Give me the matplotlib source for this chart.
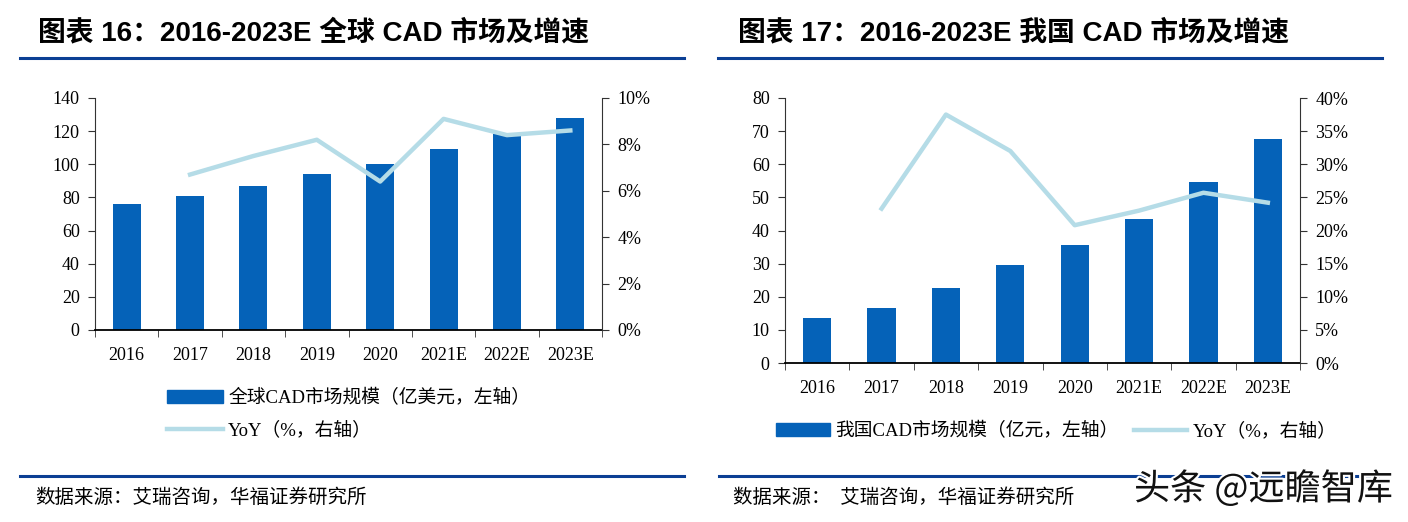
import matplotlib
matplotlib.use("Agg")
import matplotlib.pyplot as plt
import matplotlib.patheffects as pe
from matplotlib.ticker import FuncFormatter, FixedLocator
from matplotlib.lines import Line2D
from matplotlib.patches import Patch

SERIF = ["Liberation Serif", "Noto Sans CJK SC"]
TITLE_FONT = ["Liberation Sans", "Noto Sans CJK SC"]

years = ["2016", "2017", "2018", "2019", "2020", "2021E", "2022E", "2023E"]

global_size = [76, 81, 87, 94, 100, 109, 118, 128]
global_yoy = [None, 6.7, 7.5, 8.2, 6.4, 9.1, 8.4, 8.6]

china_size = [13.5, 16.5, 22.5, 29.5, 35.5, 43.5, 54.5, 67.5]
china_yoy = [None, 23.3, 37.5, 32.0, 20.8, 23.0, 25.7, 24.2]

BAR_COLOR = "#0562b8"
LINE_COLOR = "#b5dce7"
RULE_COLOR = "#0b3f94"

W, H = 1408, 522


def fx(px):
    return px / W


def fy(px):
    return 1 - px / H


def draw_panel(fig, rect, sizes, yoy, ymax, ystep, rmax, rstep):
    ax = fig.add_axes(rect)
    x = list(range(len(years)))
    ax.bar(x, sizes, width=0.44, color=BAR_COLOR, zorder=2)
    ax.set_xlim(-0.5, len(years) - 0.5)
    ax.set_ylim(0, ymax)
    ax.set_yticks(range(0, ymax + 1, ystep))
    ax.set_xticks(x)
    ax.set_xticklabels(years)
    ax.xaxis.set_minor_locator(FixedLocator([i - 0.5 for i in range(len(years) + 1)]))
    ax.tick_params(axis="x", which="major", length=0, pad=12)
    ax.tick_params(axis="x", which="minor", length=5, direction="out", color="#333333")
    ax.tick_params(axis="y", length=5, direction="out", color="#333333", pad=6)
    ax.spines["top"].set_visible(False)
    ax.spines["right"].set_visible(False)
    ax.spines["left"].set_color("#333333")
    ax.spines["bottom"].set_color("black")
    ax.spines["bottom"].set_linewidth(1.3)
    for lab in ax.get_xticklabels() + ax.get_yticklabels():
        lab.set_family(SERIF)
        lab.set_fontsize(13)

    ax2 = ax.twinx()
    xs = [i for i, v in enumerate(yoy) if v is not None]
    vs = [v for v in yoy if v is not None]
    ax2.plot(xs, vs, color=LINE_COLOR, linewidth=3.2, zorder=3)
    ax2.set_ylim(0, rmax)
    ax2.set_yticks(range(0, rmax + 1, rstep))
    ax2.yaxis.set_major_formatter(FuncFormatter(lambda v, p: f"{v:.0f}%"))
    ax2.tick_params(axis="y", length=5, direction="out", color="#333333", pad=6)
    ax2.spines["top"].set_visible(False)
    ax2.spines["left"].set_visible(False)
    ax2.spines["bottom"].set_visible(False)
    ax2.spines["right"].set_color("#333333")
    for lab in ax2.get_yticklabels():
        lab.set_family(SERIF)
        lab.set_fontsize(13)
    return ax, ax2


fig = plt.figure(figsize=(W / 100, H / 100), dpi=100)

# titles and rules
fig.text(fx(38), fy(33), "图表 16：2016-2023E 全球 CAD 市场及增速",
         family=TITLE_FONT, fontsize=20, fontweight="bold", va="center", ha="left")
fig.text(fx(738), fy(33), "图表 17：2016-2023E 我国 CAD 市场及增速",
         family=TITLE_FONT, fontsize=20, fontweight="bold", va="center", ha="left")
for x0, x1, y in [(20, 684, 58), (718, 1382, 58), (20, 684, 476), (719, 1378, 476)]:
    fig.add_artist(Line2D([fx(x0), fx(x1)], [fy(y), fy(y)],
                          color=RULE_COLOR, linewidth=2.2))

draw_panel(fig, [fx(95), fy(330), fx(507), 232 / H],
           global_size, global_yoy, 140, 20, 10, 2)
draw_panel(fig, [fx(785), fy(363), fx(515), 265 / H],
           china_size, china_yoy, 80, 10, 40, 5)

# legends
bar_handle = Patch(facecolor=BAR_COLOR, edgecolor=BAR_COLOR)
line_handle = Line2D([], [], color=LINE_COLOR, linewidth=3.2)
leg_font = {"family": SERIF, "size": 13.5}

fig.legend([bar_handle, line_handle],
           ["全球CAD市场规模（亿美元，左轴）", "YoY（%，右轴）"],
           loc="center left", bbox_to_anchor=(fx(158), fy(414)),
           ncol=1, frameon=False, prop=leg_font, borderpad=0,
           handlelength=2.95, handleheight=0.65, labelspacing=0.75,
           handletextpad=0.3)
fig.legend([bar_handle, line_handle],
           ["我国CAD市场规模（亿元，左轴）", "YoY（%，右轴）"],
           loc="center left", bbox_to_anchor=(fx(767), fy(431)),
           ncol=2, frameon=False, prop=leg_font, borderpad=0,
           handlelength=2.85, handleheight=0.65, columnspacing=0.8,
           handletextpad=0.3)

# source notes
fig.text(fx(35), fy(498), "数据来源：艾瑞咨询，华福证券研究所",
         family=SERIF, fontsize=14, va="center", ha="left")
fig.text(fx(733), fy(498), "数据来源：  艾瑞咨询，华福证券研究所",
         family=SERIF, fontsize=14, va="center", ha="left")

# watermark
fig.text(fx(1393), fy(489), "头条 @远瞻智库",
         family=["Noto Sans CJK SC", "DejaVu Sans"], fontsize=26, color="#111111",
         va="center", ha="right",
         path_effects=[pe.withStroke(linewidth=3, foreground="white")])

fig.savefig("out.png", dpi=100)
